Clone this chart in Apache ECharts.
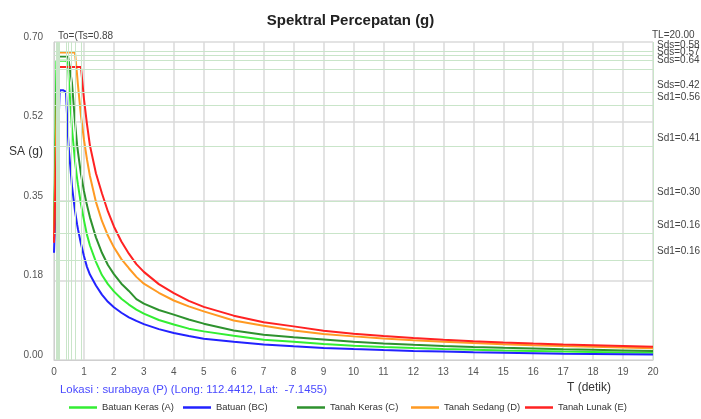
<!DOCTYPE html>
<html>
<head>
<meta charset="utf-8">
<script src="https://cdn.jsdelivr.net/npm/echarts@6/dist/echarts.min.js"></script>
<style>
html,body{margin:0;padding:0;background:#fff;}
#chart{width:701px;height:419px;}
</style>
</head>
<body>
<div id="chart"></div>
<script>
// ---- data ----
const periods = [0, 0.08, 0.11, 0.13, 0.16, 0.19, 0.3, 0.4, 0.47, 0.5, 0.6, 0.7, 0.77, 0.8, 0.9,
  1.0, 1.1, 1.2, 1.4, 1.6, 1.8, 2.0, 2.25, 2.5, 2.75, 3.0, 3.5, 4, 4.5, 5, 6, 7, 8, 9, 10,
  11, 12, 13, 14, 15, 16, 17, 18, 19, 20];

const batuanKerasA = [0.264, 0.659, 0.659, 0.659, 0.659, 0.659, 0.659, 0.659, 0.652, 0.612, 0.51, 0.438, 0.40, 0.386, 0.343,
  0.308, 0.276, 0.252, 0.216, 0.187, 0.167, 0.151, 0.135, 0.122, 0.111, 0.102, 0.088, 0.078, 0.069, 0.063, 0.0536, 0.0448, 0.040, 0.035, 0.0315,
  0.0288, 0.0264, 0.0243, 0.0226, 0.021, 0.0198, 0.0186, 0.0176, 0.0167, 0.0158];

const batuanBC = [0.236, 0.387, 0.443, 0.481, 0.537, 0.594, 0.594, 0.59, 0.49, 0.46, 0.383, 0.329, 0.299, 0.288, 0.256,
  0.229, 0.205, 0.188, 0.164, 0.144, 0.128, 0.116, 0.104, 0.094, 0.086, 0.079, 0.068, 0.0595, 0.053, 0.047, 0.040, 0.034, 0.030, 0.0266, 0.024,
  0.0218, 0.020, 0.0185, 0.017, 0.016, 0.015, 0.014, 0.0133, 0.0126, 0.012];

const tanahKerasC = [0.267, 0.559, 0.668, 0.668, 0.668, 0.668, 0.668, 0.668, 0.668, 0.668, 0.61, 0.525, 0.474, 0.458, 0.409,
  0.372, 0.341, 0.314, 0.27, 0.236, 0.209, 0.189, 0.168, 0.152, 0.134, 0.124, 0.110, 0.0998, 0.089, 0.080, 0.065, 0.0558, 0.050, 0.045, 0.040,
  0.0365, 0.0335, 0.031, 0.0287, 0.0268, 0.0251, 0.0236, 0.0223, 0.0211, 0.020];

const tanahSedangD = [0.271, 0.521, 0.615, 0.677, 0.677, 0.677, 0.677, 0.677, 0.677, 0.677, 0.677, 0.677, 0.628, 0.605, 0.538,
  0.485, 0.442, 0.405, 0.348, 0.306, 0.274, 0.248, 0.222, 0.202, 0.183, 0.168, 0.148, 0.131, 0.118, 0.107, 0.087, 0.0756, 0.065, 0.057, 0.052,
  0.0473, 0.0434, 0.040, 0.0372, 0.0347, 0.0325, 0.0306, 0.029, 0.0274, 0.026];

const tanahLunakE = [0.258, 0.452, 0.524, 0.572, 0.645, 0.645, 0.645, 0.645, 0.645, 0.645, 0.645, 0.645, 0.645, 0.645, 0.645,
  0.575, 0.52, 0.472, 0.411, 0.367, 0.327, 0.294, 0.261, 0.234, 0.211, 0.194, 0.167, 0.147, 0.13, 0.117, 0.0976, 0.083, 0.074, 0.0646, 0.058,
  0.0528, 0.0484, 0.0447, 0.0415, 0.0387, 0.0363, 0.0342, 0.0323, 0.0306, 0.029];

const seriesNames = ['Batuan Keras (A)', 'Batuan (BC)', 'Tanah Keras (C)', 'Tanah Sedang (D)', 'Tanah Lunak (E)'];
const yTickLabels = ['0.00', '0.18', '0.35', '0.52', '0.70'];
const xTickLabels = ['0','1','2','3','4','5','6','7','8','9','10','11','12','13','14','15','16','17','18','19','20'];

// reference lines (To / Ts verticals, Sds / Sd1 horizontals, TL)
const periodLines = [0.08, 0.11, 0.13, 0.16, 0.19, 0.40, 0.47, 0.56, 0.72, 0.90, 20];
const levelLines = [0.676, 0.668, 0.659, 0.643, 0.591, 0.565, 0.471, 0.35, 0.283, 0.224];

const rightLabels = ['Sds=0.58', 'Sds=0.57', 'Sds=0.64', 'Sds=0.42', 'Sd1=0.56', 'Sd1=0.41', 'Sd1=0.30', 'Sd1=0.16', 'Sd1=0.16'];
const topLeftLabel = 'To=(Ts=0.88';
const topRightLabel = 'TL=20.00';
const locationText = 'Lokasi : surabaya (P) (Long: 112.4412, Lat:  -7.1455)';
const titleText = 'Spektral Percepatan (g)';
const yName = 'SA (g)';
const xName = 'T (detik)';

// ---- styles ----
const colors = ['#33ee33', '#2222ff', '#2e922e', '#ff9a22', '#ff2222'];
const FONT = 'Liberation Sans';
const rightLabelY = [46.5, 53, 61.5, 86, 98, 139.5, 193, 226, 252];

const seriesValues = [batuanKerasA, batuanBC, tanahKerasC, tanahSedangD, tanahLunakE];

const chart = echarts.init(document.getElementById('chart'), null, {renderer: 'canvas'});

const series = [{
  name: 'refLines',
  type: 'line',
  data: [],
  silent: true,
  animation: false,
  markLine: {
    silent: true,
    animation: false,
    symbol: ['none', 'none'],
    label: {show: false},
    lineStyle: {color: '#c9e5c9', width: 1, type: 'solid'},
    data: periodLines.map(v => ({xAxis: v})).concat(levelLines.map(v => ({yAxis: v})))
  }
}];
seriesNames.forEach((n, i) => {
  series.push({
    name: n,
    type: 'line',
    symbol: 'none',
    animation: false,
    data: periods.map((t, k) => [t, seriesValues[i][k]]),
    lineStyle: {width: 2, color: colors[i]},
    itemStyle: {color: colors[i]}
  });
});

const graphics = [
  {type: 'text', left: 9, top: 146, style: {text: yName, font: '12px "' + FONT + '"', fill: '#333'}},
  {type: 'text', left: 58, top: 31, style: {text: topLeftLabel, font: '10px "' + FONT + '"', fill: '#444'}},
  {type: 'text', left: 652, top: 30, style: {text: topRightLabel, font: '10px "' + FONT + '"', fill: '#444'}},
  {type: 'text', left: 60, top: 384, style: {text: locationText, font: '11.4px "' + FONT + '"', fill: '#4a4aff'}},
  {type: 'text', left: 567, top: 382, style: {text: xName, font: '12px "' + FONT + '"', fill: '#333'}}
];
rightLabels.forEach((t, i) => {
  graphics.push({type: 'text', left: 657, top: rightLabelY[i] - 6,
    style: {text: t, font: '10px "' + FONT + '"', fill: '#444'}});
});

const legends = seriesNames.map((n, i) => ({
  data: [n],
  left: 69 + 114 * i, top: 403,
  icon: 'rect',
  itemWidth: 28, itemHeight: 2.5, itemGap: 0,
  textStyle: {fontFamily: FONT, fontSize: 9.4, color: '#333'},
  padding: 0
}));

chart.setOption({
  backgroundColor: '#fff',
  animation: false,
  title: {
    text: titleText, left: 'center', top: 8,
    textStyle: {fontFamily: FONT, fontSize: 15, fontWeight: 'bold', color: '#222'}
  },
  grid: {left: 54, right: 48, top: 42, bottom: 59},
  xAxis: {
    type: 'value', min: 0, max: 20, interval: 1,
    axisLine: {show: true, lineStyle: {color: '#cfcfcf', width: 1}},
    axisTick: {show: false},
    axisLabel: {fontFamily: FONT, fontSize: 10, color: '#555', margin: 7,
      formatter: v => xTickLabels[Math.round(v)]},
    splitLine: {show: true, lineStyle: {color: '#dadada', width: 1.5}}
  },
  yAxis: {
    type: 'value', min: 0, max: 0.7, interval: 0.175,
    axisLine: {show: true, lineStyle: {color: '#cfcfcf', width: 1}},
    axisTick: {show: false},
    axisLabel: {fontFamily: FONT, fontSize: 10, color: '#555', margin: 11, verticalAlign: 'bottom',
      formatter: v => yTickLabels[Math.round(v / 0.175)]},
    splitLine: {show: true, lineStyle: {color: '#dadada', width: 1.5}}
  },
  legend: legends,
  graphic: graphics,
  series: series
});
</script>
</body>
</html>
